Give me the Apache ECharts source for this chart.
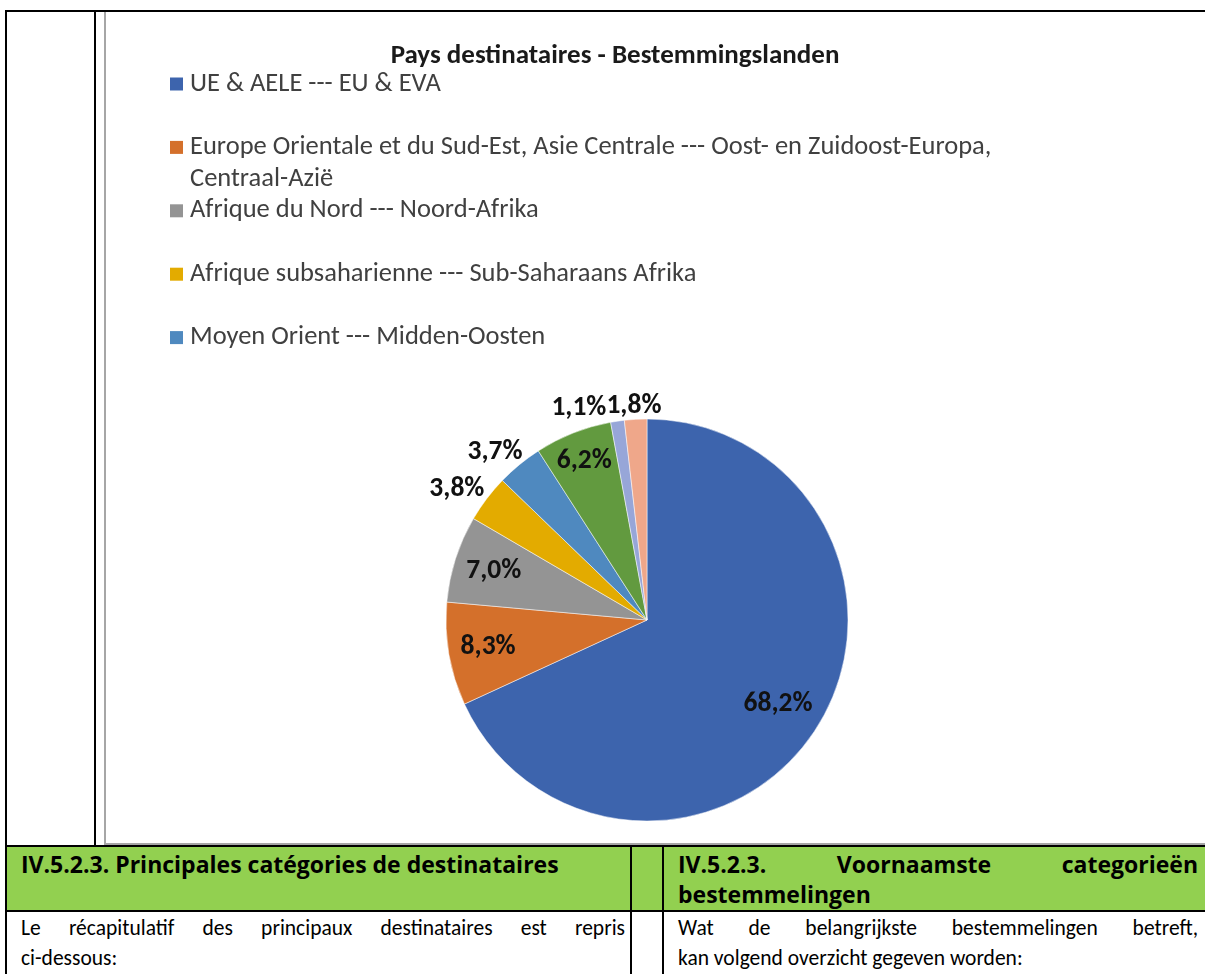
<!DOCTYPE html>
<html>
<head>
<meta charset="utf-8">
<script src="https://cdn.jsdelivr.net/npm/echarts@6/dist/echarts.min.js"></script>
<style>
body{margin:0;width:1205px;height:974px;position:relative;overflow:hidden;background:#fff;font-family:Calibri,Carlito,Lato,sans-serif;color:#000}
.ln{position:absolute;background:#000}
.box{position:absolute;left:104px;top:12px;width:1101px;height:833px;border-left:2px solid #a6a6a6;border-bottom:2px solid #a6a6a6;box-sizing:border-box}
.green{position:absolute;left:7px;top:847px;width:1198px;height:63px;background:#92d050}
.txt{position:absolute;font-size:21.5px;line-height:30px}
.hd{font-family:"Open Sans",sans-serif;font-weight:bold;font-size:23px}
.j{text-align:justify;text-align-last:justify}
#main{position:absolute;left:0;top:0;width:1205px;height:974px}
</style>
</head>
<body>
<div class="box"></div>
<div class="green"></div>
<div class="ln" style="left:5px;top:10px;width:1200px;height:2px"></div>
<div class="ln" style="left:5px;top:10px;width:2px;height:964px"></div>
<div class="ln" style="left:94px;top:10px;width:2px;height:836px"></div>
<div class="ln" style="left:5px;top:845px;width:1200px;height:2px"></div>
<div class="ln" style="left:5px;top:910px;width:1200px;height:2px"></div>
<div class="ln" style="left:630px;top:845px;width:2px;height:129px"></div>
<div class="ln" style="left:662px;top:845px;width:2px;height:129px"></div>

<div class="txt hd" style="left:21px;top:849px">IV.5.2.3. Principales catégories de destinataires</div>
<div class="txt hd" style="left:678px;top:849px;width:520px">
  <div class="j">IV.5.2.3. Voornaamste categorieën</div>
  <div>bestemmelingen</div>
</div>
<div class="txt" style="left:21px;top:913px;width:604px">
  <div class="j">Le récapitulatif des principaux destinataires est repris</div>
  <div>ci-dessous:</div>
</div>
<div class="txt" style="left:678px;top:913px;width:520px">
  <div class="j">Wat de belangrijkste bestemmelingen betreft,</div>
  <div>kan volgend overzicht gegeven worden:</div>
</div>

<div id="main"></div>
<script>
// regions (FR --- NL) and share of licences in %
var regions = [
    'UE & AELE --- EU & EVA',
    'Europe Orientale et du Sud-Est, Asie Centrale --- Oost- en Zuidoost-Europa, Centraal-Azië',
    'Afrique du Nord --- Noord-Afrika',
    'Afrique subsaharienne --- Sub-Saharaans Afrika',
    'Moyen Orient --- Midden-Oosten',
    'Amérique du Nord --- Noord-Amerika',
    'Amérique latine --- Latijns-Amerika',
    'Asie & Océanie --- Azië & Oceanië'
];
var shares = [68.2, 8.3, 7.0, 3.8, 3.7, 6.2, 1.1, 1.8];
var colors = ['#3d64ad', '#d4702b', '#949494', '#e3ab00', '#4f89bf', '#629a3f', '#97a6d8', '#efa78a'];
// the excel legend only shows the first five
var legendShown = regions.slice(0, 5);

var CX = 647, CY = 620, R = 201;
var total = 0;
for (var i = 0; i < shares.length; i++) total += shares[i];

// label box position for the slice direction a
function placeLabel(a, w, h, inside) {
    var dx = Math.cos(a), dy = Math.sin(a);
    if (inside) {
        var sup = Math.abs(dx) * w / 2 + Math.abs(dy) * h / 2;
        var r = R - 11 - sup;
        return [CX + dx * r, CY + dy * r];
    }
    // outside: box corner sits on the ray, a few px off the edge
    var m = Math.max(Math.abs(dx), Math.abs(dy));
    var px = CX + dx * (R + 3), py = CY + dy * (R + 3);
    return [px + dx / m * w / 2, py + dy / m * h / 2];
}

var myChart = echarts.init(document.getElementById('main'));
var option = {
    color: colors,
    title: {
        text: 'Pays destinataires - Bestemmingslanden',
        left: 610,
        top: 36,
        textAlign: 'center',
        textStyle: {
            fontFamily: 'Calibri, Carlito, Lato, sans-serif',
            fontSize: 27,
            fontWeight: 'bold',
            color: '#1a1a1a',
            lineHeight: 30
        }
    },
    legend: {
        orient: 'vertical',
        left: 170,
        top: 36,
        padding: 0,
        itemWidth: 13,
        itemHeight: 13,
        itemGap: -32.6,
        icon: 'rect',
        selectedMode: false,
        itemStyle: {borderWidth: 0},
        textStyle: {
            fontFamily: 'Calibri, Carlito, Lato, sans-serif',
            fontSize: 26.5,
            color: '#404040',
            lineHeight: 32,
            padding: [0, 0, 0, 2]
        },
        // blank line above (and below) so the first text line stays level with the square
        formatter: function (name) {
            var t = name.replace(', Centraal', ',\nCentraal');
            return '\n' + t + (t === name ? '\n' : '');
        },
        data: legendShown
    },
    series: [{
        type: 'pie',
        center: [CX, CY],
        radius: R,
        startAngle: 90,
        clockwise: true,
        avoidLabelOverlap: false,
        animation: false,
        itemStyle: {borderColor: '#fff', borderWidth: 0.5},
        label: {
            show: true,
            position: 'inside',
            fontFamily: 'Calibri, Carlito, Lato, sans-serif',
            fontSize: 27.5,
            fontWeight: 'bold',
            color: '#111',
            formatter: function (p) {
                return p.value.toFixed(1).replace('.', ',') + '%';
            }
        },
        labelLine: {show: false},
        labelLayout: function (p) {
            var r = p.labelRect;
            var lx = r.x + r.width / 2, ly = r.y + r.height / 2;
            var a = Math.atan2(ly - CY, lx - CX);
            var w = r.width, h = r.height * 0.7;
            var k = p.dataIndex;
            var v = shares[k];
            var pos = placeLabel(a, w, h, v >= 5);
            // small neighbours near the top collide, push this one aside
            if (v < 5 && k + 1 < shares.length && shares[k + 1] < 5) {
                var na = a + (v + shares[k + 1]) / 2 / total * 2 * Math.PI;
                var nx = placeLabel(na, w, h, false);
                var over = pos[0] + w / 2 - (nx[0] - w / 2);
                if (over > 0 && Math.abs(nx[1] - pos[1]) < h) pos[0] -= over;
            }
            return {x: pos[0], y: pos[1], align: 'center', verticalAlign: 'middle'};
        },
        data: regions.map(function (n, i) {
            return {name: n, value: shares[i]};
        })
    }]
};
myChart.setOption(option);
</script>
</body>
</html>
